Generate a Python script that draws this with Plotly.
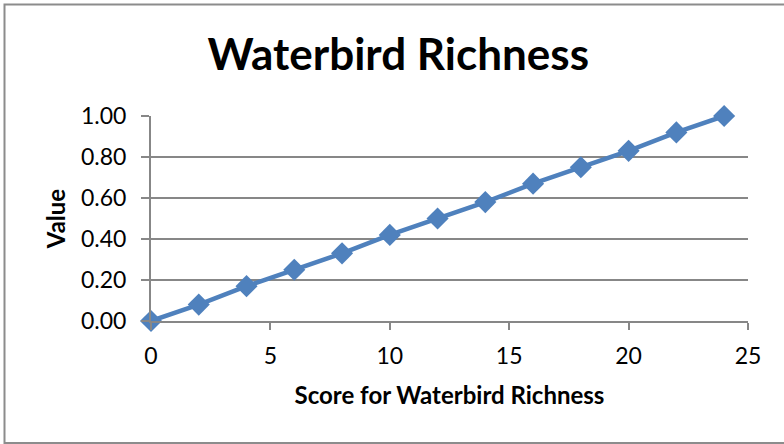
import plotly.graph_objects as go

# Waterbird richness score vs. normalised value
scores = [0, 2, 4, 6, 8, 10, 12, 14, 16, 18, 20, 22, 24]
values = [0.00, 0.08, 0.17, 0.25, 0.33, 0.42, 0.50, 0.58, 0.67, 0.75, 0.83, 0.92, 1.00]
x_ticks = [0, 5, 10, 15, 20, 25]
y_ticks = [0.0, 0.2, 0.4, 0.6, 0.8, 1.0]

W, H = 784, 444
L, R, T, B = 151, 36, 116, 123
PW, PH = W - L - R, H - T - B

FONT = "Lato"
GRID = "#878787"
BLUE = "#4F81BD"

fig = go.Figure()
fig.add_trace(go.Scatter(
    x=scores, y=values, mode="lines+markers",
    line=dict(color=BLUE, width=4.5),
    marker=dict(symbol="diamond", size=17, color=BLUE),
    cliponaxis=False, showlegend=False,
))

def px_to_paper(px, py):
    return (px - L) / PW, (H - B - py) / PH

x0, y0 = px_to_paper(4.5, 4.5)
x1, y1 = px_to_paper(800, 443)

fig.update_layout(
    width=W, height=H,
    margin=dict(l=L, r=R, t=T, b=B),
    paper_bgcolor="white", plot_bgcolor="white",
    font=dict(family=FONT, color="black", size=23),
    title=dict(text="<b>Waterbird Richness</b>", x=0.508, xanchor="center",
               y=1 - 55 / H, yanchor="middle", font=dict(size=44, family=FONT)),
    xaxis=dict(range=[0, 25], tickvals=x_ticks, showgrid=False,
               showline=True, linecolor=GRID, linewidth=2,
               ticks="outside", ticklen=7, tickwidth=2, tickcolor=GRID,
               ticklabelstandoff=6, zeroline=False,
               title=dict(text="<b>Score for Waterbird Richness</b>",
                          font=dict(size=24), standoff=20)),
    yaxis=dict(range=[0, 1], tickvals=y_ticks, tickformat=".2f",
               showgrid=True, gridcolor=GRID, gridwidth=2,
               showline=True, linecolor=GRID, linewidth=2,
               ticks="outside", ticklen=8, tickwidth=2, tickcolor=GRID,
               ticklabelstandoff=10, zeroline=False,
               title=dict(text="<b>Value</b>", font=dict(size=24), standoff=9)),
    shapes=[dict(type="rect", xref="paper", yref="paper",
                 x0=x0, y0=y0, x1=x1, y1=y1,
                 line=dict(color="#8c8c8c", width=2), layer="below")],
)

fig.write_html("out.html")
